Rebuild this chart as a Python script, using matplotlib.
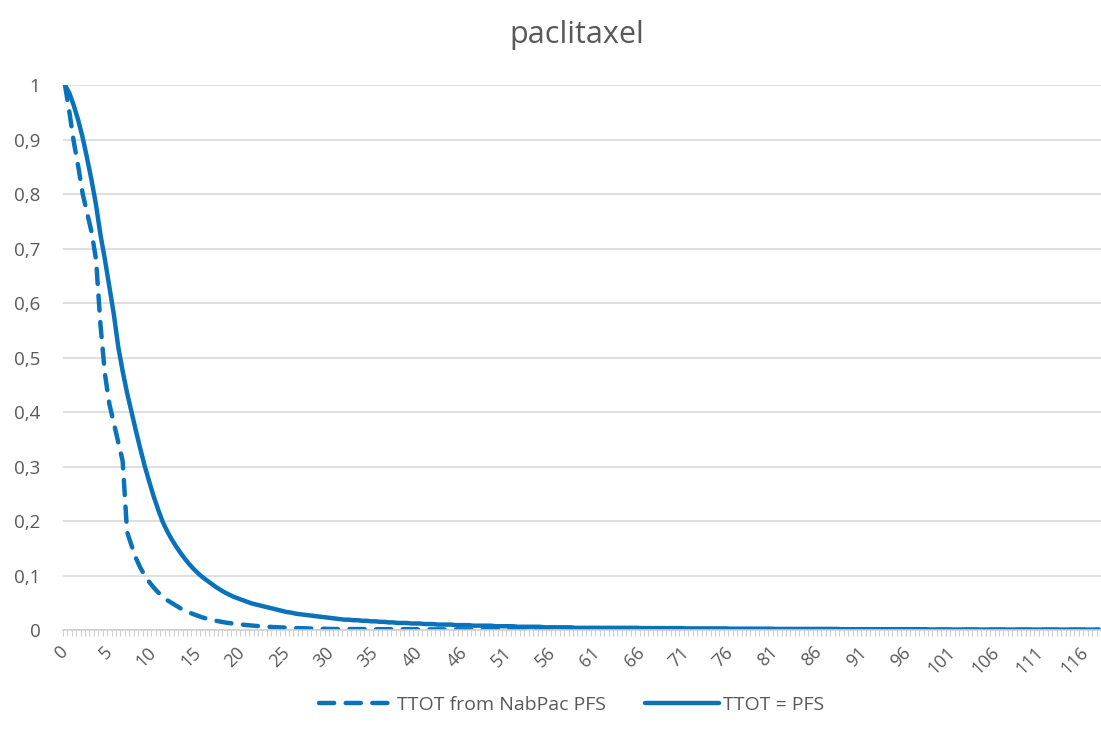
import numpy as np
from matplotlib import pyplot as plt

# x categories: labels shown every 10th category
tick_labels = ['0', '5', '10', '15', '20', '25', '30', '35', '40', '46', '51', '56',
               '61', '66', '71', '76', '81', '86', '91', '96', '101', '106', '111', '116']

ttot_pfs = (
    [1.0, 0.985, 0.962, 0.935, 0.903, 0.865, 0.825, 0.78, 0.725, 0.68,
     0.63, 0.58, 0.52, 0.475, 0.435, 0.40, 0.365, 0.332, 0.300, 0.272,
     0.245, 0.221, 0.199, 0.182, 0.167, 0.154, 0.142, 0.131, 0.121, 0.112,
     0.104, 0.097, 0.091, 0.085, 0.079, 0.074, 0.069, 0.065, 0.061, 0.058,
     0.055, 0.052, 0.049, 0.047, 0.045, 0.043, 0.041, 0.039, 0.037, 0.035,
     0.033, 0.032, 0.030, 0.029, 0.028, 0.027, 0.026, 0.025, 0.024, 0.023,
     0.022, 0.021, 0.020, 0.019, 0.019, 0.018, 0.018, 0.017, 0.017, 0.016,
     0.016, 0.015, 0.015, 0.014, 0.014, 0.013, 0.013, 0.013, 0.012, 0.012,
     0.012, 0.011, 0.011, 0.011, 0.010, 0.010, 0.010, 0.010, 0.009, 0.009,
     0.009, 0.009, 0.008, 0.008, 0.008, 0.008, 0.008, 0.007, 0.007, 0.007,
     0.007, 0.007, 0.006, 0.006, 0.006, 0.006, 0.006, 0.006, 0.005, 0.005,
     0.005, 0.005, 0.005, 0.005, 0.005, 0.004, 0.004, 0.004, 0.004, 0.004]
    + [0.004] * 10 + [0.0035] * 10 + [0.003] * 10 + [0.0025] * 10
    + [0.002] * 15 + [0.0015] * 20 + [0.001] * 25 + [0.0008] * 14
)

ttot_nabpac = (
    [1.0, 0.95, 0.895, 0.85, 0.80, 0.765, 0.73, 0.68, 0.56, 0.47,
     0.415, 0.38, 0.345, 0.31, 0.18, 0.155, 0.132, 0.114, 0.100, 0.088,
     0.078, 0.069, 0.062, 0.055, 0.050, 0.045, 0.040, 0.036, 0.032, 0.029,
     0.026, 0.023, 0.021, 0.019, 0.017, 0.0155, 0.014, 0.0128, 0.0117, 0.0107,
     0.0098, 0.009, 0.0083, 0.0076, 0.007, 0.0064, 0.0059, 0.0054, 0.005, 0.0046,
     0.0042, 0.0039, 0.0036, 0.0033, 0.003, 0.0028, 0.0026, 0.0024, 0.0022, 0.002]
    + [0.0018] * 10 + [0.0015] * 10 + [0.0012] * 10 + [0.001] * 20
    + [0.0008] * 30 + [0.0006] * 30 + [0.0005] * 64
)

n = len(ttot_pfs)
idx = np.arange(n)

blue = '#0A72BA'
grey = '#595959'
plt.rcParams['font.family'] = ['Open Sans', 'DejaVu Sans']

fig = plt.figure(figsize=(11.01, 7.4), dpi=100)
ax = fig.add_axes([0.057, 0.1486, 0.943, 0.7365])

ax.plot(np.arange(len(ttot_nabpac)), ttot_nabpac, color=blue, lw=3.2,
        linestyle=(0, (3.4, 2.6)), dash_capstyle='round',
        label='TTOT from NabPac PFS')
ax.plot(idx, ttot_pfs, color=blue, lw=3.2, solid_capstyle='round',
        label='TTOT = PFS')

ax.set_xlim(-0.5, n - 0.5)
ax.set_ylim(0, 1)
yt = np.round(np.arange(0, 1.01, 0.1), 1)
ax.set_yticks(yt)
ax.set_yticklabels(['0' if v == 0 else ('1' if v == 1 else f'{v:.1f}'.replace('.', ','))
                    for v in yt], color=grey, fontsize=13.5)
ax.grid(axis='y', color='#D9D9D9', lw=1.2)
ax.set_axisbelow(True)

ax.set_xticks(np.arange(0, 10 * len(tick_labels), 10))
ax.set_xticklabels(tick_labels, rotation=45, ha='right', va='center',
                   rotation_mode='anchor', color=grey, fontsize=13)
ax.set_xticks(np.arange(n + 1) - 0.5, minor=True)
ax.tick_params(axis='x', which='major', length=0, pad=14)
ax.tick_params(axis='x', which='minor', length=4, color='#D0D0D0', width=0.8)
ax.tick_params(axis='y', length=0, pad=16)

for s in ['top', 'right', 'left']:
    ax.spines[s].set_visible(False)
ax.spines['bottom'].set_color('#D0D0D0')
ax.spines['bottom'].set_linewidth(1.2)

fig.text(0.524, 0.953, 'paclitaxel', ha='center', va='center', fontsize=22, color=grey)

fig.legend(loc='center', bbox_to_anchor=(0.519, 0.047), ncol=2, frameon=False,
           fontsize=14, handlelength=3.8, columnspacing=2.0, handletextpad=0.2,
           labelcolor=grey)

fig.savefig('out.png', dpi=100)
